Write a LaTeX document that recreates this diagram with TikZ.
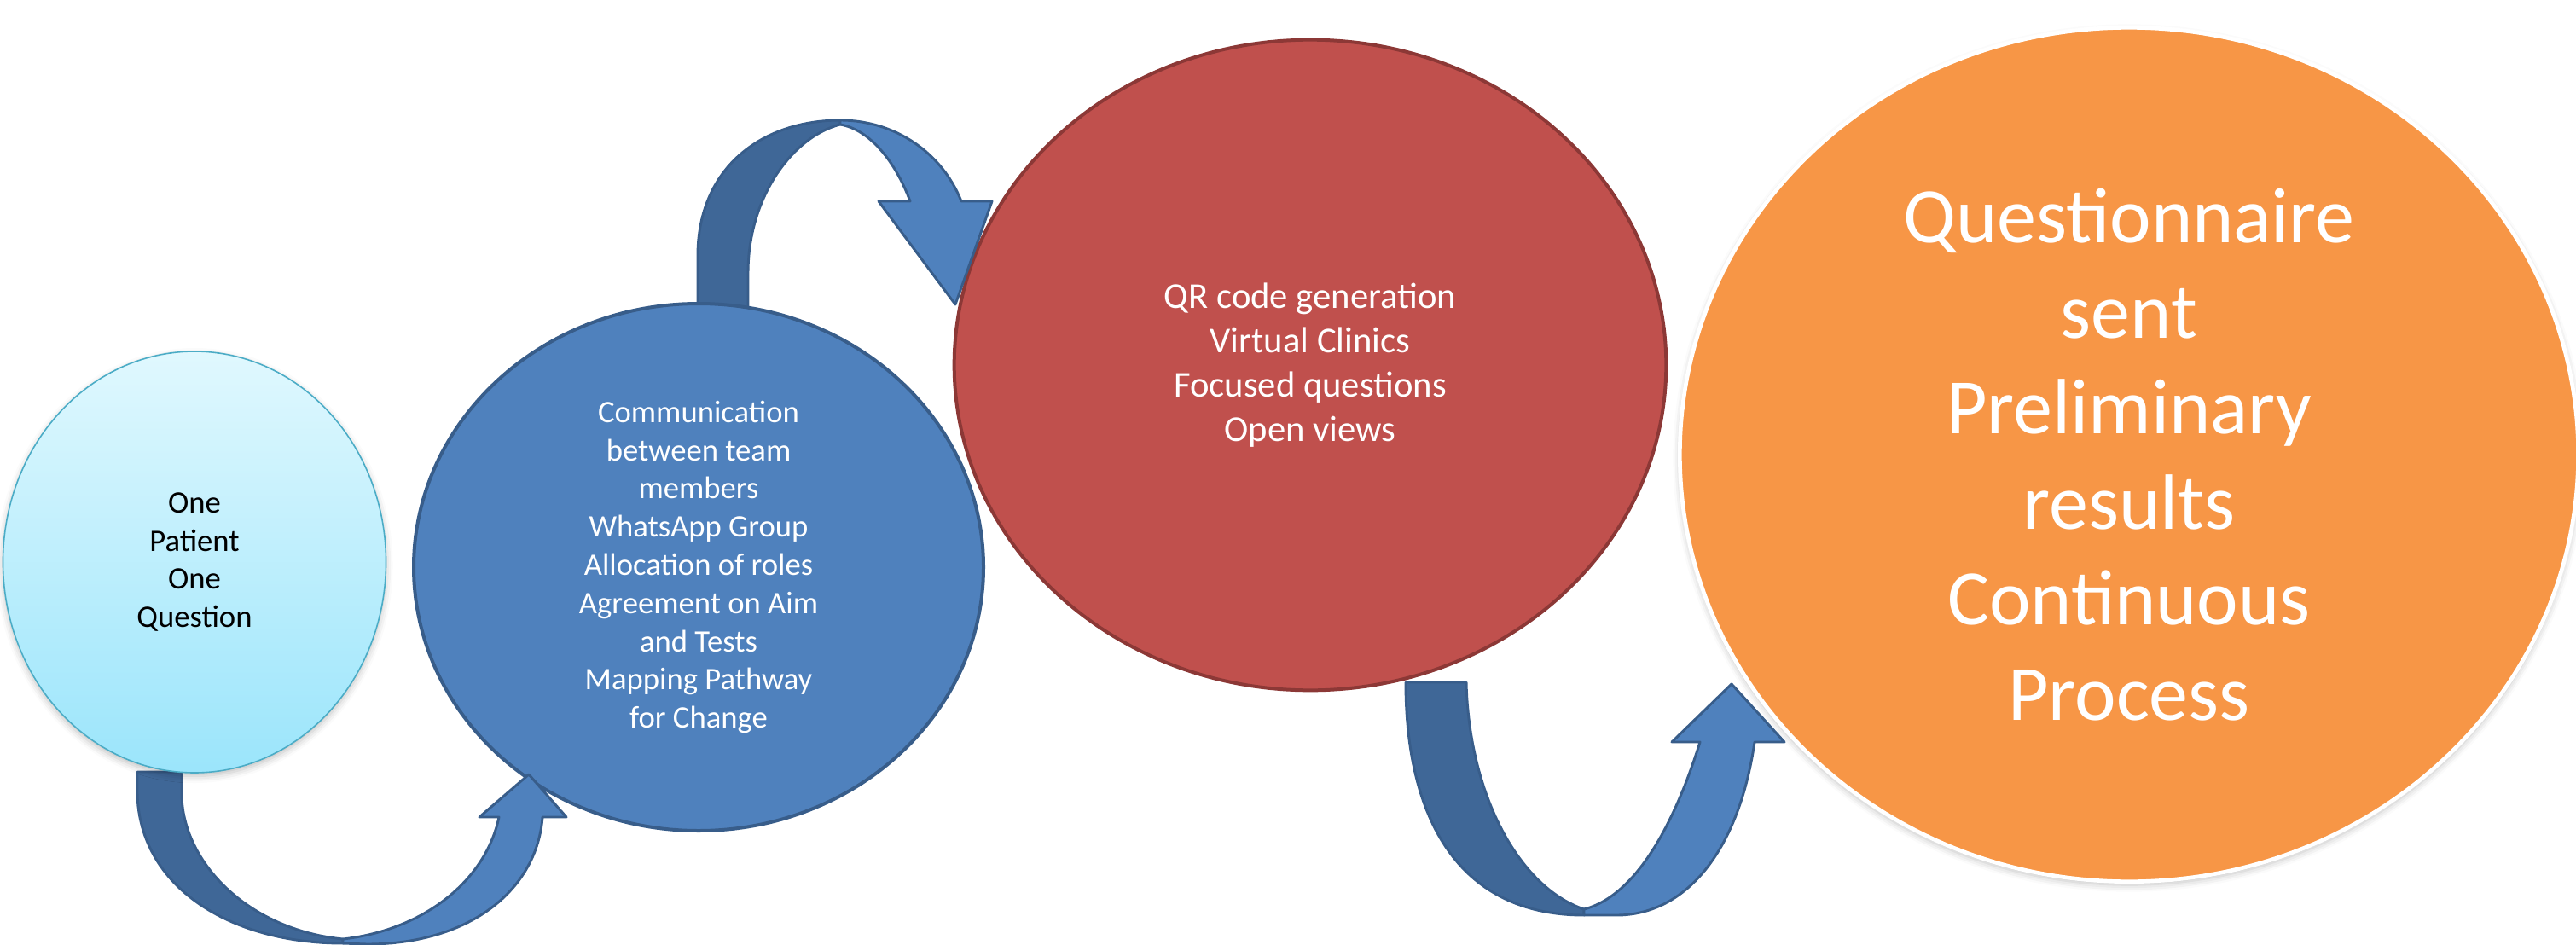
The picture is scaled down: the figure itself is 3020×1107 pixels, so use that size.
\documentclass[tikz,border=0pt]{standalone}
\usepackage{fontspec}
\setmainfont{Carlito}
\usetikzlibrary{shapes.geometric,shadows.blur}
\tikzset{every picture/.style={line width=0.75pt}}

\begin{document}
\begin{tikzpicture}[x=0.75pt,y=0.75pt,yscale=-1,xscale=1,
  bubble/.style={ellipse, inner sep=0pt, align=center},
  softshadow/.style={blur shadow={shadow xshift=0pt, shadow yshift=-3pt, shadow blur radius=6pt, shadow opacity=25}},
  arrowback/.style={draw={rgb, 255:red, 56; green, 93; blue, 138 }, fill={rgb, 255:red, 63; green, 103; blue, 151 }, line width=2.2pt, line join=round},
  arrowfront/.style={draw={rgb, 255:red, 56; green, 93; blue, 138 }, fill={rgb, 255:red, 79; green, 129; blue, 189 }, line width=2.2pt, line join=round}]
\useasboundingbox (0,0) rectangle (3020,1107);

%Shape: Ellipse
\node [bubble, softshadow, draw=white, line width=3.5pt, fill={rgb, 255:red, 247; green, 150; blue, 70 }, minimum width=790pt, minimum height=751pt, text=white, font=\fontsize{69}{84}\selectfont] (results) at (2496,533) {Questionnaire\\sent\\Preliminary\\results\\Continuous\\Process};

%Shape: Curved Up Arrow
\draw [arrowback] (1648,800) -- (1719,800) .. controls (1722,930) and (1780,1040) .. (1857,1066) -- (1857,1073) .. controls (1710,1073) and (1648,960) .. (1648,800) -- cycle ;
\draw [arrowfront] (1857,1066) .. controls (1920,1050) and (1965,960) .. (1993,870) -- (1960,870) -- (2030,802) -- (2092,870) -- (2057,870) .. controls (2038,1000) and (1975,1073) .. (1895,1073) -- (1857,1073) -- cycle ;

%Shape: Ellipse
\node [bubble, draw={rgb, 255:red, 140; green, 56; blue, 54 }, line width=3pt, fill={rgb, 255:red, 192; green, 80; blue, 77 }, minimum width=626pt, minimum height=572pt, text=white, font=\fontsize{32}{39}\selectfont] (clinic) at (1536,428) {QR code generation\\Virtual Clinics\\Focused questions\\Open views};

%Shape: Curved Down Arrow
\draw [arrowback] (818,365) -- (818,300) .. controls (818,195) and (895,141) .. (985,141) -- (985,146) .. controls (930,160) and (877,230) .. (877,320) -- (877,365) -- cycle ;
\draw [arrowfront] (985,141) .. controls (1050,141) and (1105,180) .. (1127,236) -- (1163,236) -- (1120,357) -- (1030,236) -- (1067,236) .. controls (1050,190) and (1020,152) .. (985,146) -- cycle ;

%Shape: Ellipse
\node [bubble, draw={rgb, 255:red, 56; green, 93; blue, 138 }, line width=3pt, fill={rgb, 255:red, 79; green, 129; blue, 189 }, minimum width=501pt, minimum height=463.5pt, text=white, font=\fontsize{27.5}{33.6}\selectfont] (team) at (819,665) {Communication\\between team\\members\\WhatsApp Group\\Allocation of roles\\Agreement on Aim\\and Tests\\Mapping Pathway\\for Change};

%Shape: Curved Up Arrow
\draw [arrowback] (161,905) -- (161,930) .. controls (163,1040) and (270,1106) .. (402,1106) -- (402,1101) .. controls (290,1090) and (213,1010) .. (213,930) -- (213,905) -- cycle ;
\draw [arrowfront] (402,1101) .. controls (500,1090) and (570,1030) .. (585,958) -- (562,958) -- (620,908) -- (664,958) -- (636,958) .. controls (630,1040) and (555,1107) .. (430,1107) -- (402,1106) -- cycle ;

%Shape: Ellipse
\node [bubble, softshadow, draw={rgb, 255:red, 75; green, 172; blue, 198 }, line width=1.2pt, top color={rgb, 255:red, 224; green, 248; blue, 254 }, bottom color={rgb, 255:red, 155; green, 229; blue, 251 }, minimum width=336.8pt, minimum height=370.5pt, text=black, font=\fontsize{27.5}{33.6}\selectfont] (patient) at (228,659) {One\\Patient\\One\\Question};

\end{tikzpicture}
\end{document}
